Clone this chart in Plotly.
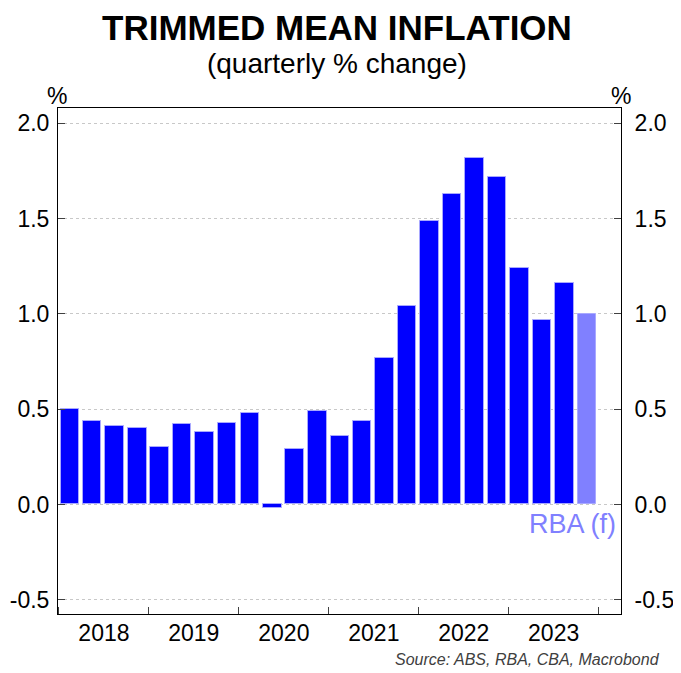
import plotly.graph_objects as go
import pandas as pd

# ---- data ----
quarters = ["2018Q1", "2018Q2", "2018Q3", "2018Q4",
            "2019Q1", "2019Q2", "2019Q3", "2019Q4",
            "2020Q1", "2020Q2", "2020Q3", "2020Q4",
            "2021Q1", "2021Q2", "2021Q3", "2021Q4",
            "2022Q1", "2022Q2", "2022Q3", "2022Q4",
            "2023Q1", "2023Q2", "2023Q3", "2023Q4"]
trimmed_mean = [0.50, 0.44, 0.41, 0.40,
                0.30, 0.42, 0.38, 0.43,
                0.48, -0.02, 0.29, 0.49,
                0.36, 0.44, 0.77, 1.04,
                1.49, 1.63, 1.82, 1.72,
                1.24, 0.97, 1.16, 1.00]
is_forecast = [False] * 23 + [True]
ytick_vals = [-0.5, 0.0, 0.5, 1.0, 1.5, 2.0]
ytick_text = ["-0.5", "0.0", "0.5", "1.0", "1.5", "2.0"]

# mid-quarter dates for bar centres
periods = pd.PeriodIndex(quarters, freq="Q")
starts = periods.start_time
ends = periods.end_time
mids = [(s + (e - s) / 2).normalize() for s, e in zip(starts, ends)]
x_dates = [d.strftime("%Y-%m-%d") for d in mids]

ACTUAL = "#0000FF"
FCAST = "#8080FF"
colors = [FCAST if f else ACTUAL for f in is_forecast]
FONT = "Liberation Sans, Arial, sans-serif"
TICK_SIZE = 23

fig = go.Figure()
fig.add_trace(go.Bar(
    x=x_dates, y=trimmed_mean,
    width=[75 * 86400000] * len(x_dates),
    marker=dict(color=colors, line=dict(color="#a8a8ff", width=1)),
    hoverinfo="skip", showlegend=False,
))
# invisible trace to carry right-hand axis
fig.add_trace(go.Scatter(
    x=x_dates, y=trimmed_mean, yaxis="y2", mode="markers",
    marker=dict(opacity=0), hoverinfo="skip", showlegend=False,
))

yrange = [-0.575, 2.081]
common_y = dict(
    range=yrange, tickvals=ytick_vals, ticktext=ytick_text,
    ticks="inside", ticklen=7, tickcolor="#404040",
    showline=True, linecolor="black", linewidth=1,
    tickfont=dict(family=FONT, size=TICK_SIZE, color="black"),
    zeroline=False, fixedrange=True, automargin=False,
)

# page body has an 8px default margin, so the figure is 8px smaller
fig.update_layout(
    width=673, height=665,
    margin=dict(l=50, r=60, t=100, b=59),
    paper_bgcolor="white", plot_bgcolor="white",
    font=dict(family=FONT, color="black"),
    xaxis=dict(
        type="date",
        range=["2017-12-28", "2024-04-01"],
        tick0="2018-01-01", dtick="M12", tickformat="%Y",
        ticklabelmode="period",
        ticks="inside", ticklen=7, tickcolor="#404040",
        showline=True, linecolor="black", linewidth=1, mirror=True,
        showgrid=False, zeroline=False, automargin=False,
        tickfont=dict(family=FONT, size=TICK_SIZE, color="black"),
        ticklabelstandoff=-2,
        fixedrange=True,
    ),
    yaxis=dict(**common_y, side="left", showgrid=True,
               gridcolor="#c8c8c8", griddash="dot", gridwidth=1,
               ticklabelstandoff=3),
    yaxis2=dict(**common_y, side="right", overlaying="y", showgrid=False,
                ticklabelstandoff=8),
    bargap=0,
)

title_text = ("<b><span style='font-size:35px'>TRIMMED MEAN INFLATION</span></b>"
              "<br><span style='font-size:28px'>(quarterly % change)</span>")

annotations = [
    dict(text=title_text, x=0.495, y=1.128,
         font=dict(size=25.5, family=FONT)),
    dict(text="%", x=-0.002, y=1.024, font=dict(size=TICK_SIZE, family=FONT)),
    dict(text="%", x=1.0, y=1.024, font=dict(size=TICK_SIZE, family=FONT)),
    dict(text="<i>Source: ABS, RBA, CBA, Macrobond</i>", x=1.072, y=-0.089,
         xanchor="right", font=dict(size=16, family=FONT, color="#404040")),
    dict(text="RBA (f)", x=0.995, y=0.178, xanchor="right",
         font=dict(size=27, family=FONT, color=FCAST)),
]
for a in annotations:
    a.setdefault("xanchor", "center")
    a.update(xref="paper", yref="paper", yanchor="middle", showarrow=False)
fig.update_layout(annotations=annotations)

fig.write_html("out.html", config={"displayModeBar": False})
